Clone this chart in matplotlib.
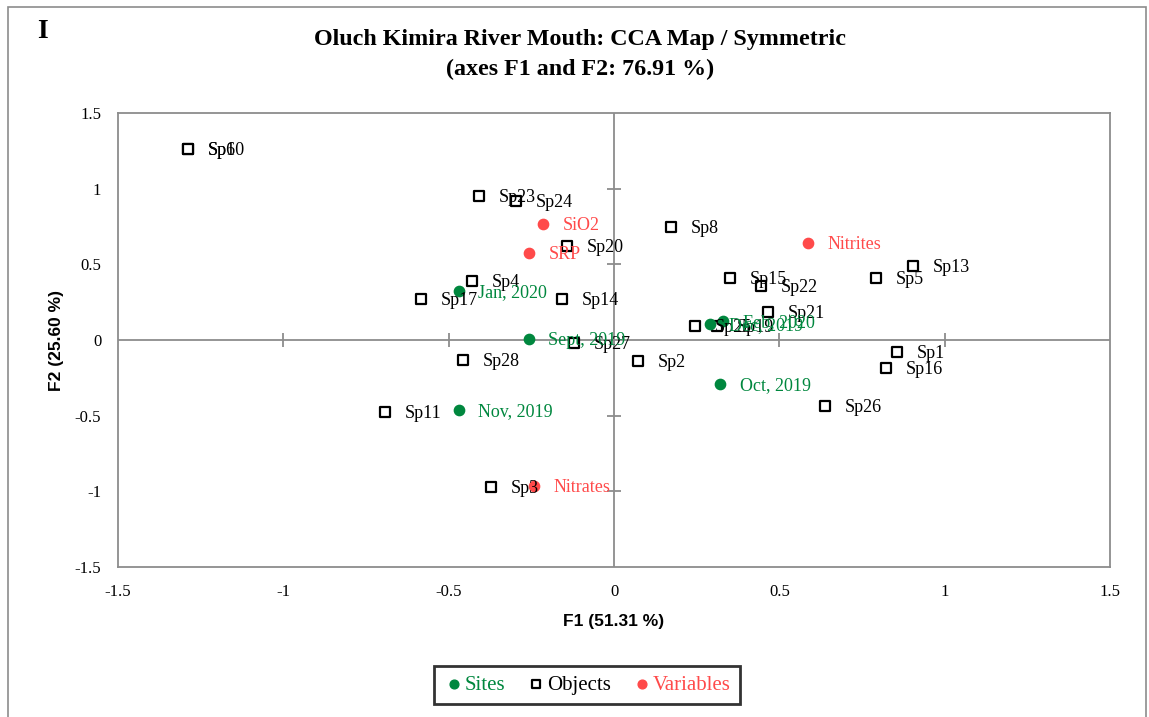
import matplotlib.pyplot as plt
from matplotlib.patches import Rectangle

# CCA scores
obj_labels = ['Sp6', 'Sp10', 'Sp23', 'Sp24', 'Sp20', 'Sp4', 'Sp17', 'Sp14', 'Sp27',
              'Sp28', 'Sp2', 'Sp11', 'Sp3', 'Sp8', 'Sp15', 'Sp22', 'Sp21', 'Sp5',
              'Sp13', 'Sp1', 'Sp16', 'Sp26', 'Sp25', 'Sp19']
obj_f1 = [-1.288, -1.288, -0.408, -0.296, -0.142, -0.429, -0.584, -0.157, -0.121,
          -0.457, 0.073, -0.692, -0.372, 0.172, 0.351, 0.444, 0.466, 0.792,
          0.904, 0.856, 0.822, 0.638, 0.246, 0.311]
obj_f2 = [1.262, 1.262, 0.952, 0.919, 0.621, 0.390, 0.271, 0.271, -0.020,
          -0.132, -0.139, -0.476, -0.972, 0.747, 0.410, 0.357, 0.185, 0.410,
          0.489, -0.079, -0.185, -0.436, 0.093, 0.093]

site_labels = ['Jan, 2020', 'Sept, 2019', 'Nov, 2019', 'Oct, 2019', 'Dec, 2019', 'Feb, 2020']
site_f1 = [-0.469, -0.257, -0.469, 0.321, 0.290, 0.330]
site_f2 = [0.324, 0.005, -0.463, -0.291, 0.106, 0.126]

var_labels = ['SiO2', 'SRP', 'Nitrates', 'Nitrites']
var_f1 = [-0.215, -0.257, -0.242, 0.587]
var_f2 = [0.767, 0.575, -0.965, 0.641]

ticks = [-1.5, -1, -0.5, 0, 0.5, 1, 1.5]

green = '#00873e'
red = '#ff4a4a'
grey = '#8c8c8c'
serif = ['Liberation Serif', 'DejaVu Serif']
sans = ['Liberation Sans', 'DejaVu Sans']

fig = plt.figure(figsize=(11.49, 7.17), dpi=100)
fig.patches.append(Rectangle((0.007, -0.01), 0.99, 1.0, transform=fig.transFigure,
                             fill=False, edgecolor=grey, linewidth=1.2))
ax = fig.add_axes([0.1027, 0.2092, 0.8634, 0.6332])

ax.set_xlim(-1.5, 1.5)
ax.set_ylim(-1.5, 1.5)
ax.set_xticks(ticks)
ax.set_yticks(ticks)
ax.set_xticklabels([f'{t:g}' for t in ticks], family=serif, fontsize=12)
ax.set_yticklabels([f'{t:g}' for t in ticks], family=serif, fontsize=12)
ax.tick_params(length=0, pad=12)
for s in ax.spines.values():
    s.set_color(grey)
    s.set_linewidth(1.3)

# zero axes with cross ticks
ax.axhline(0, color=grey, lw=1.3, zorder=1)
ax.axvline(0, color=grey, lw=1.3, zorder=1)
for t in ticks[1:-1]:
    if t != 0:
        ax.plot([t], [0], marker='|', ms=10, mew=1.3, color=grey, zorder=1)
        ax.plot([0], [t], marker='_', ms=10, mew=1.3, color=grey, zorder=1)

ax.scatter(obj_f1, obj_f2, marker='s', s=50, facecolor='white', edgecolor='black',
           linewidth=1.6, zorder=3, label='Objects')
ax.scatter(site_f1, site_f2, marker='o', s=55, color=green, zorder=3, label='Sites')
ax.scatter(var_f1, var_f2, marker='o', s=55, color=red, zorder=3, label='Variables')

for lab, x, y in zip(obj_labels, obj_f1, obj_f2):
    ax.annotate(lab, (x, y), xytext=(14, -1), textcoords='offset points', va='center',
                family=serif, fontsize=13, color='black', zorder=4)
for lab, x, y in zip(site_labels, site_f1, site_f2):
    ax.annotate(lab, (x, y), xytext=(14, -1), textcoords='offset points', va='center',
                family=serif, fontsize=13, color=green, zorder=4)
for lab, x, y in zip(var_labels, var_f1, var_f2):
    ax.annotate(lab, (x, y), xytext=(14, -1), textcoords='offset points', va='center',
                family=serif, fontsize=13, color=red, zorder=4)

ax.set_xlabel('F1 (51.31 %)', family=sans, fontsize=12.5, fontweight='bold', labelpad=10)
ax.set_ylabel('F2 (25.60 %)', family=sans, fontsize=12.5, fontweight='bold', labelpad=8)

fig.text(580 / 1149, 1 - 40 / 717, 'Oluch Kimira River Mouth: CCA Map / Symmetric',
         ha='center', va='center', family=serif, fontsize=17.3, fontweight='bold')
fig.text(580 / 1149, 1 - 69 / 717, '(axes F1 and F2: 76.91 %)',
         ha='center', va='center', family=serif, fontsize=17.3, fontweight='bold')
fig.text(42 / 1149, 1 - 32 / 717, 'I', ha='center', va='center', family=serif,
         fontsize=20, fontweight='bold')

h, l = ax.get_legend_handles_labels()
order = [1, 0, 2]
leg = fig.legend([h[i] for i in order], [l[i] for i in order], loc='center',
                 bbox_to_anchor=(587 / 1149, 1 - 685 / 717), ncol=3,
                 prop={'family': serif, 'size': 15}, frameon=True, fancybox=False,
                 handletextpad=0.0, columnspacing=1.0, handlelength=1.0,
                 markerscale=0.85, borderpad=0.45)
leg.get_frame().set_edgecolor('black')
leg.get_frame().set_linewidth(2)
for txt, c in zip(leg.get_texts(), [green, 'black', red]):
    txt.set_color(c)

fig.savefig('out.png', dpi=100)
